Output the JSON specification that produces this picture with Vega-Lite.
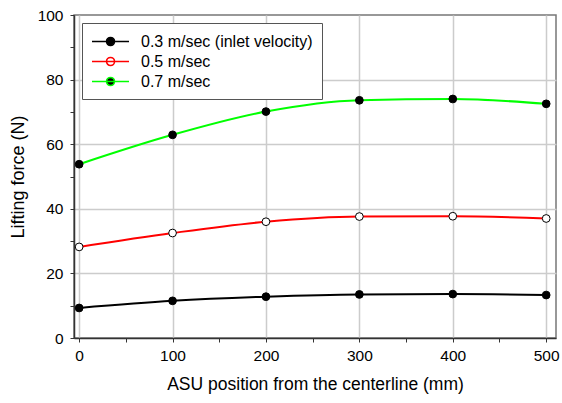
{
  "$schema": "https://vega.github.io/schema/vega-lite/v6.json",
  "width": 482,
  "height": 323,
  "autosize": {"type": "none"},
  "padding": {"left": 74, "top": 15, "right": 6, "bottom": 65},
  "background": "white",
  "config": {
    "font": "Liberation Sans",
    "view": {"stroke": "#777", "strokeWidth": 1.5},
    "legend": {"labelFontSize": 16, "labelFont": "Liberation Sans"},
    "axis": {
      "labelFont": "Liberation Sans",
      "titleFont": "Liberation Sans",
      "labelFontSize": 15.5,
      "titleFontWeight": "normal",
      "labelColor": "#000",
      "titleColor": "#000",
      "domainColor": "#333",
      "domainWidth": 1.5,
      "tickColor": "#333",
      "tickWidth": 1,
      "tickSize": 4,
      "gridColor": "#cccccc",
      "gridWidth": 1.5
    }
  },
  "data": {
    "values": [
      {"x": 0, "y": 9.3, "s": "0.3 m/sec (inlet velocity)"},
      {"x": 100, "y": 11.5, "s": "0.3 m/sec (inlet velocity)"},
      {"x": 200, "y": 12.8, "s": "0.3 m/sec (inlet velocity)"},
      {"x": 300, "y": 13.5, "s": "0.3 m/sec (inlet velocity)"},
      {"x": 400, "y": 13.6, "s": "0.3 m/sec (inlet velocity)"},
      {"x": 500, "y": 13.3, "s": "0.3 m/sec (inlet velocity)"},
      {"x": 0, "y": 28.2, "s": "0.5 m/sec"},
      {"x": 100, "y": 32.5, "s": "0.5 m/sec"},
      {"x": 200, "y": 36.0, "s": "0.5 m/sec"},
      {"x": 300, "y": 37.6, "s": "0.5 m/sec"},
      {"x": 400, "y": 37.7, "s": "0.5 m/sec"},
      {"x": 500, "y": 37.0, "s": "0.5 m/sec"},
      {"x": 0, "y": 53.8, "s": "0.7 m/sec"},
      {"x": 100, "y": 62.9, "s": "0.7 m/sec"},
      {"x": 200, "y": 70.1, "s": "0.7 m/sec"},
      {"x": 300, "y": 73.6, "s": "0.7 m/sec"},
      {"x": 400, "y": 74.0, "s": "0.7 m/sec"},
      {"x": 500, "y": 72.5, "s": "0.7 m/sec"}
    ]
  },
  "encoding": {
    "x": {
      "field": "x", "type": "quantitative",
      "scale": {"domain": [-5.5, 510.5], "nice": false, "zero": false},
      "axis": {
        "title": "ASU position from the centerline (mm)",
        "titleFontSize": 17.5,
        "titlePadding": 12,
        "values": [0, 50, 100, 150, 200, 250, 300, 350, 400, 450, 500],
        "labelExpr": "datum.value % 100 == 0 ? datum.label : ''",
        "labelPadding": 6,
        "gridOpacity": {"condition": {"test": "datum.value % 100 != 0", "value": 0}, "value": 1}
      }
    },
    "y": {
      "field": "y", "type": "quantitative",
      "scale": {"domain": [0, 100], "nice": false},
      "axis": {
        "title": "Lifting force (N)",
        "titleFontSize": 18,
        "titlePadding": 10,
        "values": [0, 10, 20, 30, 40, 50, 60, 70, 80, 90, 100],
        "labelExpr": "datum.value % 20 == 0 ? datum.label : ''",
        "labelPadding": 7,
        "gridOpacity": {"condition": {"test": "datum.value % 20 != 0 || datum.value == 0 || datum.value == 100", "value": 0}, "value": 1}
      }
    }
  },
  "layer": [
    {
      "mark": {"type": "line", "interpolate": "monotone", "strokeWidth": 2},
      "encoding": {
        "color": {
          "field": "s", "type": "nominal",
          "scale": {"domain": ["0.3 m/sec (inlet velocity)", "0.5 m/sec", "0.7 m/sec"], "range": ["#000000", "#ff0000", "#00ff00"]},
          "legend": {
            "title": null,
            "orient": "top-left",
            "offset": 8,
            "labelFontSize": 16,
            "labelFont": "Liberation Sans",
            "labelColor": "#000",
            "labelLimit": 400,
            "symbolType": "M-1,0L3.35,0M1.65,0A0.47,0.47,0,1,1,0.71,0A0.47,0.47,0,1,1,1.65,0Z",
            "symbolSize": 289,
            "symbolStrokeWidth": 1.6,
            "rowPadding": 2,
            "labelOffset": 31,
            "strokeColor": "#555",
            "fillColor": "white",
            "padding": 9,
            "encode": {
              "symbols": {
                "update": {
                  "fill": {"scale": "fill", "field": "value"},
                  "fillOpacity": {"value": 1}
                }
              }
            }
          }
        }
      }
    },
    {
      "mark": {"type": "point", "filled": true, "size": 60, "stroke": "#000", "strokeWidth": 1, "opacity": 1},
      "encoding": {
        "fill": {
          "field": "s", "type": "nominal",
          "scale": {"domain": ["0.3 m/sec (inlet velocity)", "0.5 m/sec", "0.7 m/sec"], "range": ["#000000", "#ffffff", "#000000"]},
          "legend": null
        }
      }
    }
  ]
}
